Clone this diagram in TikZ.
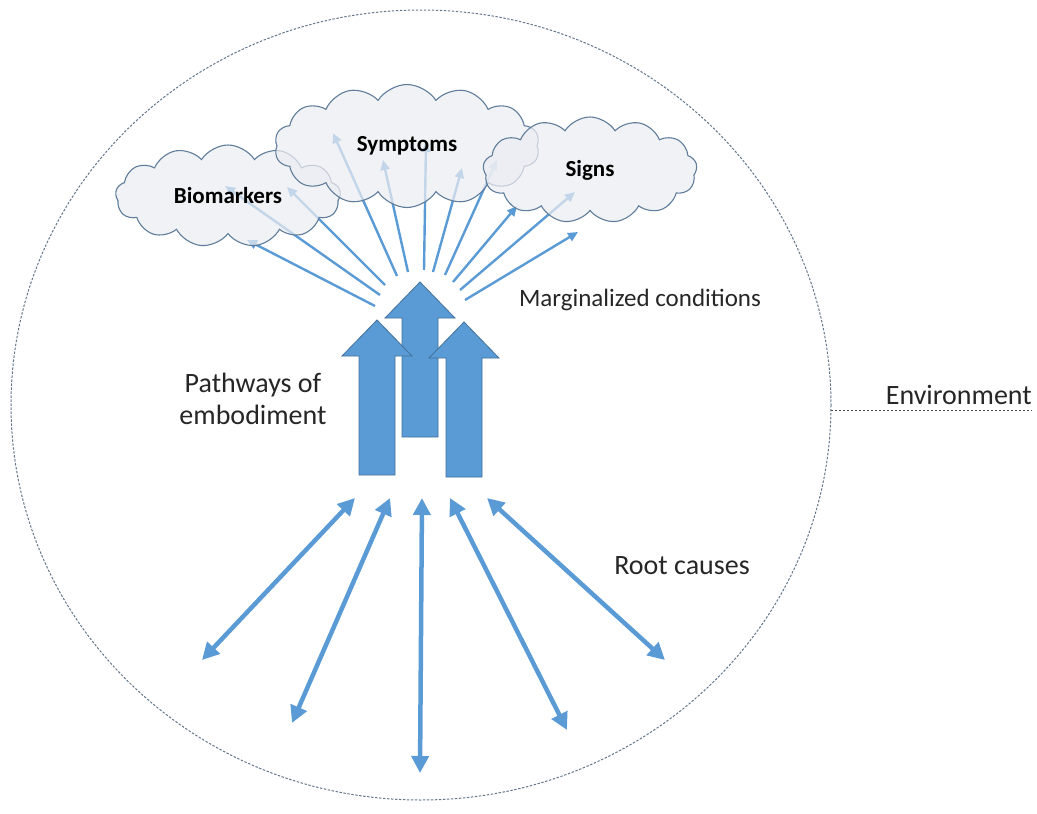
\documentclass[tikz,border=0pt]{standalone}
\usepackage{fontspec}
\setmainfont{Carlito}
\usepackage{tikz}
\usetikzlibrary{shapes.symbols, arrows.meta, positioning, calc}

\definecolor{arrowblue}{RGB}{91,155,213}
\definecolor{arrowedge}{RGB}{65,113,156}
\definecolor{cloudfill}{RGB}{236,237,242}
\definecolor{cloudedge}{RGB}{95,125,155}
\definecolor{ringgray}{RGB}{100,118,138}

\begin{document}
\begin{tikzpicture}[x=1pt, y=-1pt]

  \tikzset{
    cloudbox/.style={cloud, cloud puffs=#1, cloud puff arc=115,
      draw=cloudedge, line width=1.1pt, fill=cloudfill, fill opacity=0.72,
      text opacity=1, inner sep=0pt,
      font=\fontsize{23}{27}\selectfont\bfseries},
    fanarrow/.style={-{Triangle[length=10pt, width=9pt]},
      line width=2.4pt, arrowblue},
    rootarrow/.style={{Triangle[length=17pt, width=17pt]}-{Triangle[length=17pt, width=17pt]},
      line width=4.5pt, arrowblue},
    blockarrow/.style={fill=arrowblue, draw=arrowedge, line width=0.8pt},
    ringline/.style={ringgray, line width=1pt, dash pattern=on 2.4pt off 1.6pt},
    plainlabel/.style={inner sep=0pt, text=black!85,
      font=\fontsize{28}{32}\selectfont}
  }

  \useasboundingbox (0,0) rectangle (1037,814);

  % environment ring
  \draw[ringline] (421,405) ellipse [x radius=410, y radius=395];
  \coordinate (ring east) at (831,410);
  \coordinate (env end) at (1032,410);
  \draw[ringline, black!70] (ring east) -- (env end);
  \node[plainlabel, anchor=base east] (env) at (1032,404) {Environment};

  % fan of arrows into the clouds
  \foreach \n/\tx/\ty/\hx/\hy in {1/375/306/247/240, 2/380/295/225/186,
      3/385/285/287/187, 4/397/276/333/133, 5/408/272/383/160,
      6/424/270/426/142, 7/433/272/462/168, 8/445/275/497/160,
      9/453/282/517/206, 10/460/290/575/192, 11/465/300/578/232} {
    \coordinate (fan tail \n) at (\tx,\ty);
    \coordinate (fan head \n) at (\hx,\hy);
    \draw[fanarrow] (fan tail \n) -- (fan head \n);
  }

  % clouds
  \node[cloudbox=13, aspect=2.2, minimum width=225pt, minimum height=102pt]
    (biomarkers) at (228,196) {Biomarkers};
  \node[cloudbox=14, aspect=2.15, minimum width=265pt, minimum height=123pt]
    (symptoms) at (407,146) {Symptoms};
  \node[cloudbox=13, aspect=2, minimum width=214pt, minimum height=106pt]
    (signs) at (590,170) {Signs};

  \node[plainlabel, font=\fontsize{25}{30}\selectfont]
    (marginal) at (640,300) {Marginalized conditions};

  % pathways of embodiment
  \foreach \cx/\tip/\base in {420/282/437, 377/320/475, 464/322/477} {
    \draw[blockarrow] (\cx,\tip) -- ++(35,36) -- ++(-17,0)
      -- (\cx+18,\base) -- (\cx-18,\base) -- (\cx-18,\tip+36)
      -- (\cx-35,\tip+36) -- cycle;
  }
  \node[plainlabel, align=center] (pathways) at (253,399)
    {Pathways of\\embodiment};

  % root causes
  \foreach \n/\tx/\ty/\hx/\hy in {1/355/498/202/660, 2/390/498/292/723,
      3/422/498/420/773, 4/450/498/567/730, 5/487/498/665/660} {
    \coordinate (root top \n) at (\tx,\ty);
    \coordinate (root end \n) at (\hx,\hy);
    \draw[rootarrow] (root top \n) -- (root end \n);
  }
  \node[plainlabel] (root) at (682,566) {Root causes};

\end{tikzpicture}
\end{document}
